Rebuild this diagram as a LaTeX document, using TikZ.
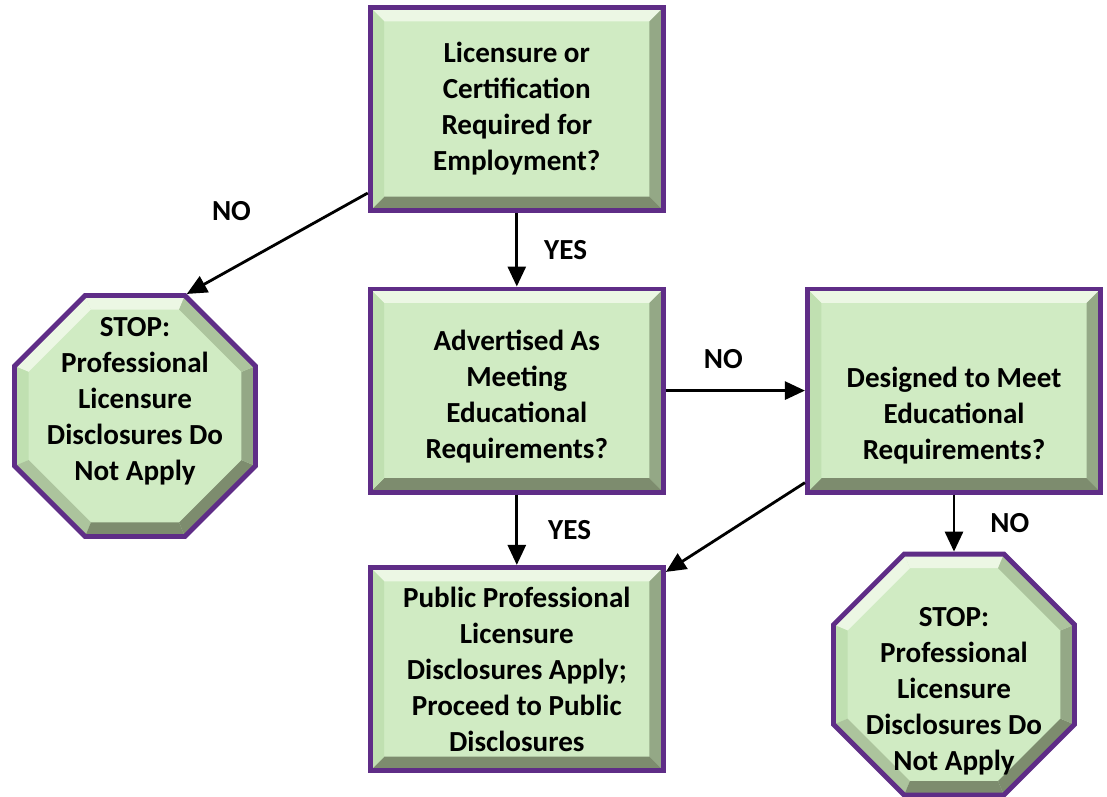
\documentclass[tikz,border=0pt]{standalone}
\usepackage{fontspec}
\setmainfont{Carlito}
\usepackage{tikz}
\usetikzlibrary{arrows.meta, calc, positioning, shapes.geometric}
\definecolor{frame}{RGB}{95,45,135}
\definecolor{face}{RGB}{208,235,195}
\definecolor{bevtop}{RGB}{236,247,228}
\definecolor{bevleft}{RGB}{192,224,177}
\definecolor{bevmid}{RGB}{172,196,157}
\definecolor{bevright}{RGB}{148,168,134}
\definecolor{bevbottom}{RGB}{125,140,110}
\newcommand{\boxfont}{\fontsize{20.7}{25.6}\selectfont\bfseries}
\newcommand{\shifted}[2]{\makebox[0pt]{\raisebox{#1}[0pt][0pt]{\begin{tabular}{@{}c@{}}#2\end{tabular}}}}

\begin{document}
\begin{tikzpicture}[
        box/.style={draw=frame, line width=3.5pt, fill=face, minimum width=7.33cm, minimum height=5.08cm,
            align=center, font=\boxfont,
            path picture={
                \path (path picture bounding box.north west) coordinate (o1)
                      (path picture bounding box.north east) coordinate (o2)
                      (path picture bounding box.south east) coordinate (o3)
                      (path picture bounding box.south west) coordinate (o4)
                      ($(o1)+(0.35,-0.35)$) coordinate (i1)
                      ($(o2)+(-0.35,-0.35)$) coordinate (i2)
                      ($(o3)+(-0.35,0.35)$) coordinate (i3)
                      ($(o4)+(0.35,0.35)$) coordinate (i4);
                \fill[bevtop] (o1) -- (o2) -- (i2) -- (i1) -- cycle;
                \fill[bevright] (o2) -- (o3) -- (i3) -- (i2) -- cycle;
                \fill[bevbottom] (o3) -- (o4) -- (i4) -- (i3) -- cycle;
                \fill[bevleft] (o4) -- (o1) -- (i1) -- (i4) -- cycle;
            }},
        stopsign/.style={regular polygon, regular polygon sides=8,
            draw=frame, line width=3.5pt, fill=face, minimum size=6.52cm, inner sep=0pt, font=\boxfont,
            path picture={
                \foreach \a/\c in {90/bevtop, 135/bevtop, 180/bevleft, 225/bevmid,
                                   270/bevbottom, 315/bevbottom, 0/bevright, 45/bevmid}
                    \fill[\c] ($(path picture bounding box.center)+({\a-22.5}:3.4)$)
                        -- ($(path picture bounding box.center)+({\a+22.5}:3.4)$)
                        -- ($(path picture bounding box.center)+({\a+22.5}:2.88)$)
                        -- ($(path picture bounding box.center)+({\a-22.5}:2.88)$) -- cycle;
            }},
        arr/.style={-{Triangle[length=0.5cm, width=0.45cm]}, line width=2pt},
        lbl/.style={font=\boxfont, inner sep=0pt}]
        \useasboundingbox (0,0) rectangle (27.675,19.925);
        \node[box] (licence) at (12.92,17.2) {Licensure or\\Certification\\Required for\\Employment?};
        \node[box] (advert) at (12.92,10.16) {\shifted{-0.35cm}{Advertised As\\Meeting\\Educational\\Requirements?}};
        \node[box] (design) at (23.85,10.16) {\shifted{-0.82cm}{Designed to Meet\\Educational\\Requirements?}};
        \node[box] (public) at (12.92,3.2) {Public Professional\\Licensure\\Disclosures Apply;\\Proceed to Public\\Disclosures};
        \node[stopsign] (stopleft) at (3.375,9.525)
            {\shifted{0.18cm}{STOP:\\Professional\\Licensure\\Disclosures Do\\Not Apply}};
        \node[stopsign] (stopright) at (23.85,3.06)
            {\shifted{-0.6cm}{STOP:\\Professional\\Licensure\\Disclosures Do\\Not Apply}};
        \draw[arr] ([yshift=0.5cm]licence.south west) -- (stopleft.67.5)
            node[lbl, pos=0.5, above left=0.525cm and 0.625cm] {NO};
        \draw[arr] (licence.south) -- (advert.north) node[lbl, midway, right=0.65cm] {YES};
        \draw[arr] (advert.east) -- (design.west) node[lbl, midway, above=0.5cm, xshift=-0.3cm] {NO};
        \draw[arr] (advert.south) -- (public.north) node[lbl, midway, right=0.75cm] {YES};
        \draw[arr] ([yshift=0.3cm]design.south west) -- ([yshift=-0.175cm]public.north east);
        \draw[arr] (design.south) -- (stopright.north) node[lbl, midway, right=0.875cm] {NO};
\end{tikzpicture}
\end{document}
